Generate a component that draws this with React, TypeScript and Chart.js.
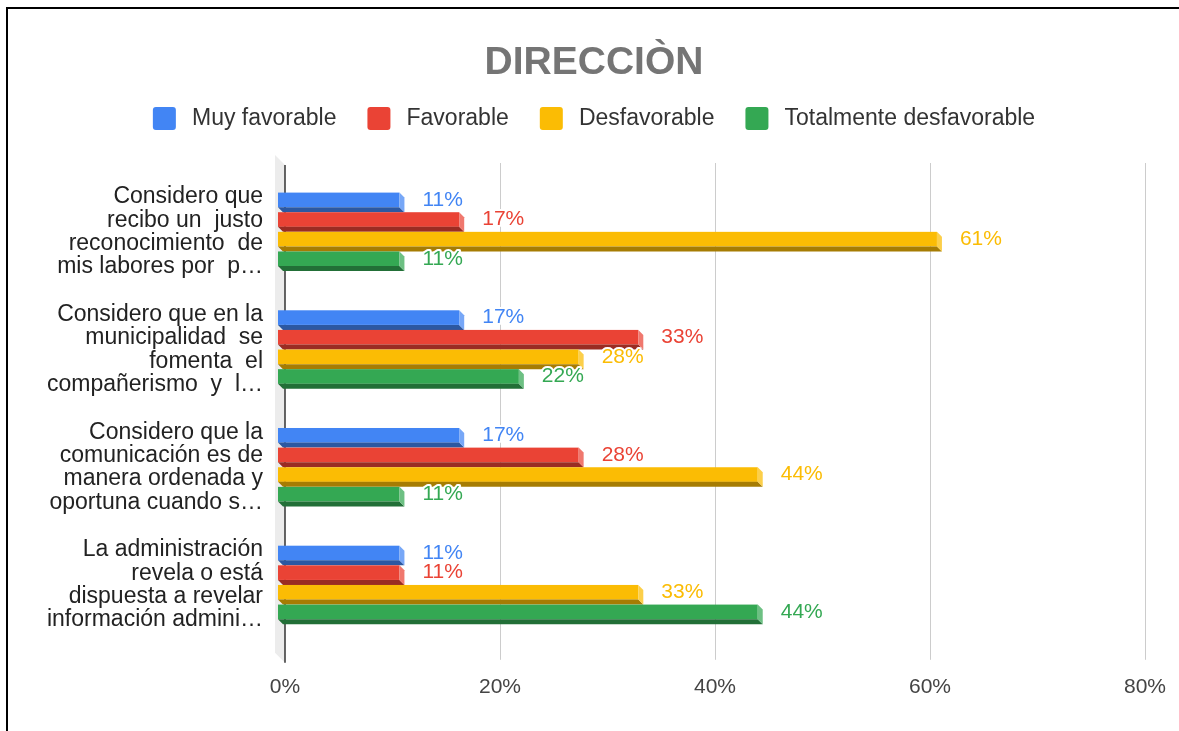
import React, { useEffect, useRef } from 'react';
import { Chart, registerables } from 'chart.js';

Chart.register(...registerables);

const FONT = '"Liberation Sans", Arial, sans-serif';

const chartTitle = 'DIRECCIÒN';

const categories: string[][] = [
  ['Considero que', 'recibo un  justo', 'reconocimiento  de', 'mis labores por  p…'],
  ['Considero que en la', 'municipalidad  se', 'fomenta  el', 'compañerismo  y  l…'],
  ['Considero que la', 'comunicación es de', 'manera ordenada y', 'oportuna cuando s…'],
  ['La administración', 'revela o está', 'dispuesta a revelar', 'información admini…'],
];

const seriesNames = ['Muy favorable', 'Favorable', 'Desfavorable', 'Totalmente desfavorable'];

const muyFavorable = [11.11, 16.67, 16.67, 11.11];
const favorable = [16.67, 33.33, 27.78, 11.11];
const desfavorable = [61.11, 27.78, 44.44, 33.33];
const totalmenteDesfavorable = [11.11, 22.22, 11.11, 44.44];

const xTicks = [0, 20, 40, 60, 80];

const seriesColors = ['#4285F4', '#EA4335', '#FBBC04', '#34A853'];

function hexToRgb(hex: string) {
  const h = hex.replace('#', '');
  return [parseInt(h.slice(0, 2), 16), parseInt(h.slice(2, 4), 16), parseInt(h.slice(4, 6), 16)];
}
function shade(hex: string, f: number) {
  const [r, g, b] = hexToRgb(hex);
  return `rgb(${Math.round(r * f)},${Math.round(g * f)},${Math.round(b * f)})`;
}
function tint(hex: string, f: number) {
  const [r, g, b] = hexToRgb(hex);
  return `rgb(${Math.round(r + (255 - r) * f)},${Math.round(g + (255 - g) * f)},${Math.round(b + (255 - b) * f)})`;
}

const DX = 5; // depth horizontal
const DY = 5; // depth vertical
const SHIFT = 2; // back face shift left from scale base

const threeDPlugin = {
  id: 'threeD',
  beforeDatasetsDraw(chart: any) {
    const { ctx, chartArea: a, scales } = chart;
    const x = scales.x;
    const B = x.getPixelForValue(0);
    ctx.save();
    // back wall
    ctx.fillStyle = '#ececec';
    ctx.beginPath();
    ctx.moveTo(B - 10, a.top - 18);
    ctx.lineTo(B, a.top - 8);
    ctx.lineTo(B, a.bottom + 19);
    ctx.lineTo(B - 10, a.bottom + 9);
    ctx.closePath();
    ctx.fill();
    // grid lines
    ctx.strokeStyle = '#cccccc';
    ctx.lineWidth = 1;
    xTicks.forEach((t) => {
      if (t === 0) return;
      const px = Math.round(x.getPixelForValue(t)) + 0.5;
      ctx.beginPath();
      ctx.moveTo(px, a.top - 10);
      ctx.lineTo(px, a.bottom + 16);
      ctx.stroke();
    });
    // zero line
    ctx.strokeStyle = '#333333';
    ctx.lineWidth = 1.5;
    ctx.beginPath();
    ctx.moveTo(B, a.top - 8);
    ctx.lineTo(B, a.bottom + 19);
    ctx.stroke();
    ctx.restore();
  },
  beforeDatasetDraw() {
    return false;
  },
  afterDatasetsDraw(chart: any) {
    const { ctx } = chart;
    const nDs = chart.data.datasets.length;
    const nCat = chart.data.labels.length;
    const labelsToDraw: any[] = [];
    ctx.save();
    for (let i = 0; i < nCat; i++) {
      for (let j = 0; j < nDs; j++) {
        const meta = chart.getDatasetMeta(j);
        const el: any = meta.data[i];
        if (!el) continue;
        const color = seriesColors[j];
        const V = el.x;
        const B0 = el.base - SHIFT;
        const h = el.height;
        const top = el.y - h / 2;
        const fl = B0 - DX;
        const fr = V - DX;
        const fb = top + h - DY;
        // front face
        ctx.fillStyle = color;
        ctx.fillRect(fl, top, fr - fl, fb - top);
        // bottom face
        ctx.fillStyle = shade(color, 0.66);
        ctx.beginPath();
        ctx.moveTo(fl, fb);
        ctx.lineTo(fr, fb);
        ctx.lineTo(V, top + h);
        ctx.lineTo(B0, top + h);
        ctx.closePath();
        ctx.fill();
        // right face
        ctx.fillStyle = tint(color, 0.28);
        ctx.beginPath();
        ctx.moveTo(fr, top);
        ctx.lineTo(V, top + DY);
        ctx.lineTo(V, top + h);
        ctx.lineTo(fr, fb);
        ctx.closePath();
        ctx.fill();
        const val = chart.data.datasets[j].data[i];
        labelsToDraw.push({ x: V + 18, y: top + (h - DY) / 2, text: Math.round(val) + '%', color });
      }
    }
    ctx.font = `21px ${FONT}`;
    ctx.textAlign = 'left';
    ctx.textBaseline = 'middle';
    ctx.lineJoin = 'round';
    labelsToDraw.forEach((l) => {
      ctx.strokeStyle = '#ffffff';
      ctx.lineWidth = 4;
      ctx.strokeText(l.text, l.x, l.y);
      ctx.fillStyle = l.color;
      ctx.fillText(l.text, l.x, l.y);
    });
    ctx.restore();
  },
};

export default function App() {
  const canvasRef = useRef<HTMLCanvasElement | null>(null);

  useEffect(() => {
    if (!canvasRef.current) return;
    Chart.defaults.font.family = FONT;
    const seriesValues = [muyFavorable, favorable, desfavorable, totalmenteDesfavorable];
    const chart = new Chart(canvasRef.current, {
      type: 'bar',
      data: {
        labels: categories,
        datasets: seriesNames.map((name, j) => ({
          label: name,
          data: seriesValues[j],
          backgroundColor: seriesColors[j],
          borderWidth: 0,
          categoryPercentage: 0.667,
          barPercentage: 1,
        })),
      },
      options: {
        indexAxis: 'y',
        responsive: true,
        maintainAspectRatio: false,
        animation: false,
        layout: { padding: { left: 43, right: 34, top: 0, bottom: 0 } },
        plugins: {
          title: {
            display: true,
            text: chartTitle,
            color: '#757575',
            font: { family: FONT, size: 39, weight: 'bold', lineHeight: 0.628 },
            padding: { top: 51.5, bottom: 0 },
          },
          legend: {
            position: 'top',
            labels: {
              boxWidth: 23,
              boxHeight: 23,
              padding: 31,
              color: '#333333',
              font: { family: FONT, size: 23 },
              useBorderRadius: true,
              borderRadius: 3,
              generateLabels: (chart: any) => {
                const items = Chart.defaults.plugins.legend.labels.generateLabels(chart);
                return items.map((it: any) => ({ ...it, text: '\u2009' + it.text }));
              },
            },
          },
          tooltip: { enabled: false },
        },
        scales: {
          x: {
            min: 0,
            max: 80,
            afterBuildTicks: (s: any) => {
              s.ticks = xTicks.map((v) => ({ value: v }));
            },
            afterFit: (s: any) => {
              s.paddingLeft = 0;
              s.paddingRight = 0;
            },
            ticks: {
              callback: (v: any) => v + '%',
              padding: 31,
              color: '#444444',
              font: { family: FONT, size: 21 },
            },
            grid: { display: false, drawTicks: false },
            border: { display: false },
          },
          xTop: {
            type: 'linear',
            position: 'top',
            display: true,
            grid: { display: false, drawTicks: false },
            border: { display: false },
            ticks: { display: false },
            afterFit: (s: any) => {
              s.height = 33;
            },
          },
          y: {
            grid: { display: false, drawTicks: false },
            border: { display: false },
            ticks: {
              padding: 22,
              color: '#222222',
              font: { family: FONT, size: 23, lineHeight: 1.015 },
            },
            afterFit: (s: any) => {
              s.width = 242;
            },
          },
        },
      } as any,
      plugins: [threeDPlugin],
    });
    return () => chart.destroy();
  }, []);

  return (
    <div
      style={{
        position: 'absolute',
        left: 0,
        top: 0,
        width: 1179,
        height: 731,
        overflow: 'hidden',
        background: '#ffffff',
      }}
    >
      <div style={{ position: 'absolute', left: 0, top: 0, width: 1179, height: 731 }}>
        <canvas ref={canvasRef} />
      </div>
      <div
        style={{
          position: 'absolute',
          left: 6,
          top: 7,
          width: 1300,
          height: 900,
          border: '2px solid #000000',
          pointerEvents: 'none',
        }}
      />
    </div>
  );
}
